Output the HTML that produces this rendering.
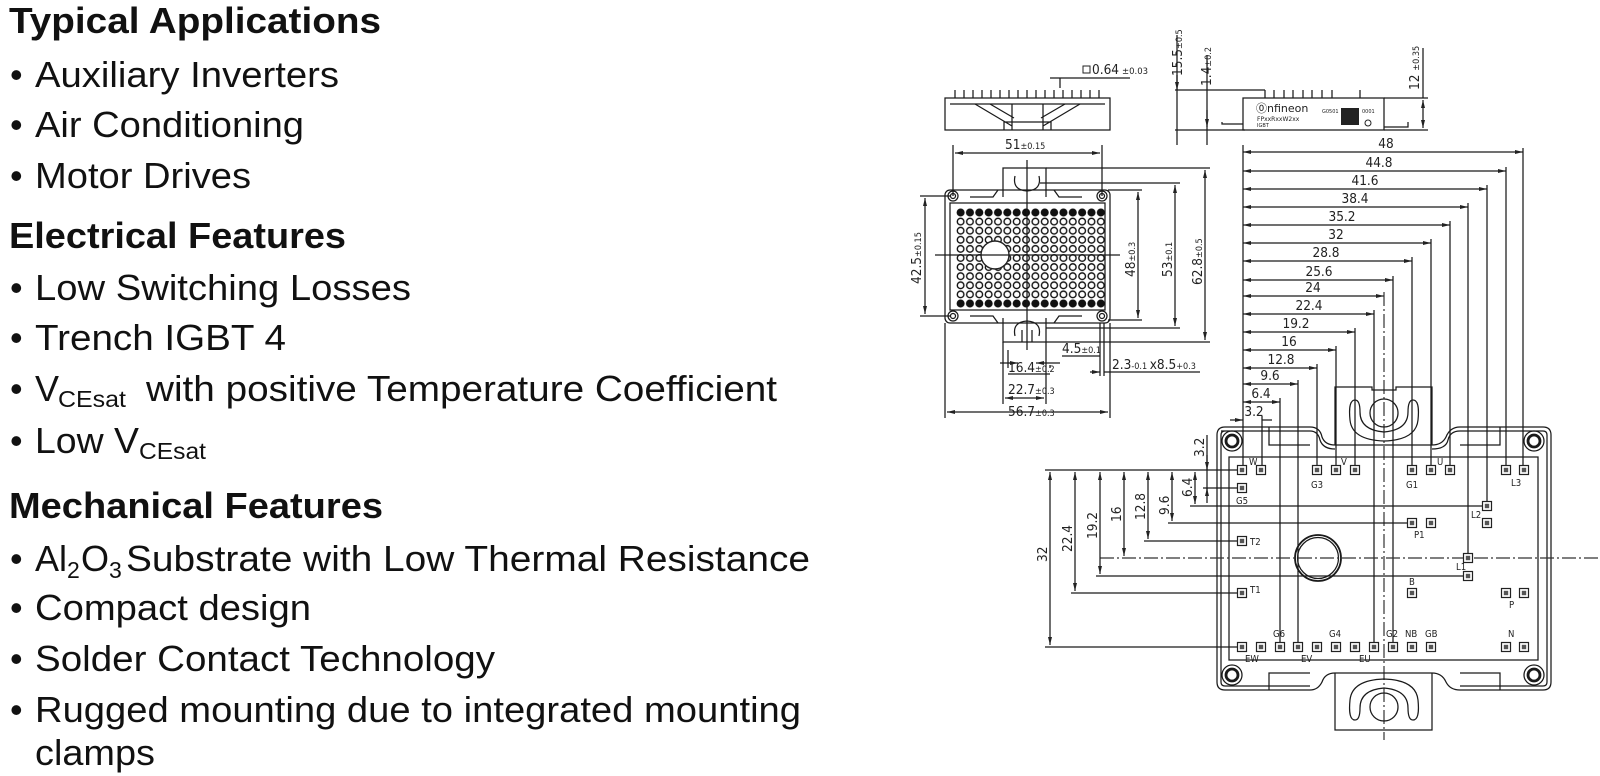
<!DOCTYPE html>
<html><head><meta charset="utf-8"><style>
html,body{margin:0;padding:0;background:#fff;}
svg{display:block;}
.t{font-family:"Liberation Sans",Arial,sans-serif;fill:#111;font-size:36px;}
.h{font-weight:bold;}
.d{font-family:"DejaVu Sans Condensed","DejaVu Sans",sans-serif;fill:#222;font-size:13.5px;}
.s{font-family:"DejaVu Sans",sans-serif;fill:#222;font-size:8.5px;}
.l{stroke:#1a1a1a;stroke-width:1.25;fill:none;}
.c{stroke:#333;stroke-width:1.2;fill:none;stroke-dasharray:14 3 2 3;}
</style></head><body>
<svg width="1600" height="776" viewBox="0 0 1600 776" xmlns="http://www.w3.org/2000/svg">
<defs>
<pattern id="dots" x="956" y="208" width="9.35" height="9.1" patternUnits="userSpaceOnUse">
<circle cx="4.6" cy="4.5" r="3.3" fill="none" stroke="#111" stroke-width="1.4"/></pattern>
<pattern id="fdots" x="956" y="208" width="9.35" height="9.1" patternUnits="userSpaceOnUse">
<circle cx="4.6" cy="4.5" r="3.7" fill="#111"/></pattern>
<g id="pin"><rect x="-4.5" y="-4.5" width="9" height="9" fill="#fff" stroke="#222" stroke-width="1.2"/><rect x="-2.2" y="-2.2" width="4.4" height="4.4" fill="#555"/></g>
<marker id="a" markerWidth="8" markerHeight="6" refX="8" refY="3" orient="auto-start-reverse" markerUnits="userSpaceOnUse"><path d="M0,1 L8,3 L0,5z" fill="#222"/></marker>
</defs>

<!-- LEFT TEXT -->
<text class="t h" x="9" y="33" textLength="372" lengthAdjust="spacingAndGlyphs">Typical Applications</text>
<g class="t">
<text x="10" y="87">•</text><text x="35" y="87" textLength="304" lengthAdjust="spacingAndGlyphs">Auxiliary Inverters</text>
<text x="10" y="137">•</text><text x="35" y="137" textLength="269" lengthAdjust="spacingAndGlyphs">Air Conditioning</text>
<text x="10" y="188">•</text><text x="35" y="188" textLength="216" lengthAdjust="spacingAndGlyphs">Motor Drives</text>
</g>
<text class="t h" x="9" y="248" textLength="337" lengthAdjust="spacingAndGlyphs">Electrical Features</text>
<g class="t">
<text x="10" y="300">•</text><text x="35" y="300" textLength="376" lengthAdjust="spacingAndGlyphs">Low Switching Losses</text>
<text x="10" y="350">•</text><text x="35" y="350" textLength="251" lengthAdjust="spacingAndGlyphs">Trench IGBT 4</text>
<text x="10" y="401">•</text><text x="35" y="401">V</text><text x="58" y="407" font-size="23" textLength="68" lengthAdjust="spacingAndGlyphs">CEsat</text><text x="146" y="401" textLength="631" lengthAdjust="spacingAndGlyphs">with positive Temperature Coefficient</text>
<text x="10" y="453">•</text><text x="35" y="453" textLength="104" lengthAdjust="spacingAndGlyphs">Low V</text><text x="139" y="459" font-size="23" textLength="67" lengthAdjust="spacingAndGlyphs">CEsat</text>
</g>
<text class="t h" x="9" y="518" textLength="374" lengthAdjust="spacingAndGlyphs">Mechanical Features</text>
<g class="t">
<text x="10" y="571">•</text><text x="35" y="571">Al</text><text x="67" y="578" font-size="23">2</text><text x="81" y="571">O</text><text x="109" y="578" font-size="23">3</text><text x="126" y="571" textLength="684" lengthAdjust="spacingAndGlyphs">Substrate with Low Thermal Resistance</text>
<text x="10" y="620">•</text><text x="35" y="620" textLength="276" lengthAdjust="spacingAndGlyphs">Compact design</text>
<text x="10" y="671">•</text><text x="35" y="671" textLength="460" lengthAdjust="spacingAndGlyphs">Solder Contact Technology</text>
<text x="10" y="722">•</text><text x="35" y="722" textLength="766" lengthAdjust="spacingAndGlyphs">Rugged mounting due to integrated mounting</text>
<text x="35" y="765" textLength="120" lengthAdjust="spacingAndGlyphs">clamps</text>
</g>

<!-- SIDE VIEW LEFT -->
<g class="l">
<rect x="945" y="98" width="165" height="32"/>
<line x1="950" y1="104" x2="1105" y2="104"/>
<path d="M975 104 L1012 126 M990 104 L1014 118 M1080 104 L1043 126 M1065 104 L1041 118 M1012 104 V130 M1043 104 V130 M1004 130 V122 H1051 V130"/>
<path d="M955 98 V90 M964 98 V90 M973 98 V90 M982 98 V90 M991 98 V90 M1000 98 V90 M1009 98 V90 M1018 98 V90 M1027 98 V90 M1036 98 V90 M1045 98 V90 M1054 98 V90 M1063 98 V90 M1072 98 V90 M1081 98 V90 M1090 98 V90 M1099 98 V90"/>
<path d="M1058 78 H1130 M1060 78 V88 M1058 78 L1050 78"/>
</g>
<rect x="1083" y="66" width="7" height="7" fill="none" stroke="#222"/>
<text class="d" x="1092" y="74">0.64</text><text class="s" x="1122" y="74">±0.03</text>

<!-- TOP VIEW -->
<g class="l">
<rect x="945" y="190" width="165" height="133" rx="5"/>
<rect x="950" y="203" width="155" height="107"/>
<path d="M1003 197 V168 H1046 V197 M1015 176 Q1012 190 1027 191 Q1042 190 1039 176"/>
<path d="M1003 318 V342 H1046 V318 M1015 336 Q1012 322 1027 321 Q1042 322 1039 336 M1022 330 V342 M1032 330 V342"/>
<path d="M970 197 H993 L998 190 M1082 197 H1059 L1054 190 M970 316 H993 L998 323 M1082 316 H1059 L1054 323"/>
<circle cx="953" cy="196" r="5"/><circle cx="1102" cy="196" r="5"/><circle cx="953" cy="316" r="5"/><circle cx="1102" cy="316" r="5"/>
<circle cx="953" cy="196" r="2.5"/><circle cx="1102" cy="196" r="2.5"/><circle cx="953" cy="316" r="2.5"/><circle cx="1102" cy="316" r="2.5"/>
</g>
<rect x="956" y="208" width="149.6" height="100.1" fill="url(#dots)"/>
<rect x="956" y="208" width="149.6" height="9.1" fill="url(#fdots)"/>
<rect x="956" y="299" width="149.6" height="9.1" fill="url(#fdots)"/>
<circle cx="995" cy="255" r="14" fill="#fff" stroke="#222" stroke-width="1.4"/>
<g class="l">
<line x1="1027" y1="160" x2="1027" y2="350"/><line x1="935" y1="255" x2="1120" y2="255"/>
<line x1="953" y1="145" x2="953" y2="196"/><line x1="1102" y1="145" x2="1102" y2="196"/>
<line x1="955" y1="153" x2="1100" y2="153" marker-start="url(#a)" marker-end="url(#a)"/>
<line x1="920" y1="196" x2="950" y2="196"/><line x1="920" y1="316" x2="950" y2="316"/>
<line x1="925" y1="198" x2="925" y2="314" marker-start="url(#a)" marker-end="url(#a)"/>
<line x1="1108" y1="190" x2="1142" y2="190"/><line x1="1108" y1="320" x2="1142" y2="320"/>
<line x1="1138" y1="192" x2="1138" y2="318" marker-start="url(#a)" marker-end="url(#a)"/>
<line x1="1040" y1="183" x2="1180" y2="183"/><line x1="1046" y1="328" x2="1180" y2="328"/>
<line x1="1175" y1="185" x2="1175" y2="326" marker-start="url(#a)" marker-end="url(#a)"/>
<line x1="1046" y1="168" x2="1210" y2="168"/><line x1="1046" y1="342" x2="1210" y2="342"/>
<line x1="1205" y1="170" x2="1205" y2="340" marker-start="url(#a)" marker-end="url(#a)"/>
<line x1="945" y1="323" x2="945" y2="418"/><line x1="1110" y1="323" x2="1110" y2="418"/>
<line x1="947" y1="412" x2="1108" y2="412" marker-start="url(#a)" marker-end="url(#a)"/>
<line x1="1003" y1="342" x2="1003" y2="404"/><line x1="1046" y1="342" x2="1046" y2="404"/>
<line x1="1005" y1="398" x2="1044" y2="398" marker-start="url(#a)" marker-end="url(#a)"/>
<line x1="1008" y1="350" x2="1008" y2="368"/><line x1="1050" y1="365" x2="1050" y2="368"/>
<line x1="1000" y1="363" x2="1018" y2="363" marker-end="url(#a)"/><line x1="1060" y1="363" x2="1036" y2="363" marker-end="url(#a)"/>
<line x1="1008" y1="374" x2="1050" y2="374"/>
<line x1="1100" y1="323" x2="1100" y2="376"/><line x1="1104" y1="323" x2="1104" y2="376"/>
<line x1="1090" y1="372" x2="1100" y2="372" marker-end="url(#a)"/><line x1="1104" y1="372" x2="1200" y2="372"/>
<line x1="1062" y1="356" x2="1100" y2="356"/>
</g>
<g class="d">
<text x="1005" y="149">51<tspan font-size="9">±0.15</tspan></text>
<text transform="translate(921,284) rotate(-90)">42.5<tspan font-size="9">±0.15</tspan></text>
<text transform="translate(1135,277) rotate(-90)">48<tspan font-size="9">±0.3</tspan></text>
<text transform="translate(1172,277) rotate(-90)">53<tspan font-size="9">±0.1</tspan></text>
<text transform="translate(1202,285) rotate(-90)">62.8<tspan font-size="9">±0.5</tspan></text>
<text x="1062" y="353">4.5<tspan font-size="9">±0.1</tspan></text>
<text x="1008" y="372">16.4<tspan font-size="9">±0.2</tspan></text>
<text x="1008" y="394">22.7<tspan font-size="9">±0.3</tspan></text>
<text x="1008" y="416">56.7<tspan font-size="9">±0.3</tspan></text>
<text x="1112" y="369">2.3<tspan font-size="9">-0.1 </tspan>x8.5<tspan font-size="9">+0.3</tspan></text>
</g>

<!-- SIDE VIEW RIGHT -->
<g class="l">
<rect x="1243" y="98" width="141" height="32"/>
<path d="M1265 98 V90 M1274 98 V90 M1284 98 V90 M1293 98 V90 M1303 98 V90 M1312 98 V90 M1322 98 V90 M1332 98 V90 M1360 98 V90"/>
<path d="M1243 124 H1222 V122 M1384 127 H1408 V122"/>
<line x1="1175" y1="90" x2="1265" y2="90"/><line x1="1175" y1="130" x2="1245" y2="130"/>
<line x1="1384" y1="98" x2="1428" y2="98"/><line x1="1384" y1="130" x2="1428" y2="130"/>
<line x1="1177" y1="35" x2="1177" y2="145"/><line x1="1207" y1="55" x2="1207" y2="145"/>
<line x1="1177" y1="75" x2="1177" y2="90" marker-end="url(#a)"/>
<line x1="1207" y1="110" x2="1207" y2="127" marker-end="url(#a)"/>
<line x1="1423" y1="48" x2="1423" y2="98"/><line x1="1423" y1="100" x2="1423" y2="128" marker-start="url(#a)" marker-end="url(#a)"/>
</g>
<text transform="translate(1182,76) rotate(-90)" class="d" font-size="15">15.5<tspan font-size="9">±0.5</tspan></text>
<text transform="translate(1211,86) rotate(-90)" class="d">1.4<tspan font-size="9">±0.2</tspan></text>
<text transform="translate(1419,90) rotate(-90)" class="d">12 <tspan font-size="9">±0.35</tspan></text>
<text x="1256" y="112" font-family="DejaVu Sans" font-size="11" fill="#222">⓪nfineon</text>
<text x="1257" y="121" font-family="DejaVu Sans" font-size="6" fill="#222">FPxxRxxW2xx</text>
<text x="1257" y="127" font-family="DejaVu Sans" font-size="5" fill="#222">IGBT</text>
<text x="1322" y="113" font-family="DejaVu Sans" font-size="5" fill="#222">G0501</text>
<rect x="1341" y="108" width="18" height="17" fill="#222"/>
<text x="1362" y="113" font-family="DejaVu Sans" font-size="5" fill="#222">0001</text>
<circle cx="1368" cy="123" r="3" fill="none" stroke="#222"/>

<!-- DIM LADDER -->
<g class="l">
<line x1="1243" y1="145" x2="1243" y2="470"/>
<g marker-start="url(#a)" marker-end="url(#a)">
<line x1="1243" y1="152" x2="1523" y2="152"/><line x1="1243" y1="171" x2="1506" y2="171"/>
<line x1="1243" y1="189" x2="1487" y2="189"/><line x1="1243" y1="207" x2="1468" y2="207"/>
<line x1="1243" y1="225" x2="1450" y2="225"/><line x1="1243" y1="243" x2="1431" y2="243"/>
<line x1="1243" y1="261" x2="1412" y2="261"/><line x1="1243" y1="280" x2="1393" y2="280"/>
<line x1="1243" y1="296" x2="1384" y2="296"/><line x1="1243" y1="314" x2="1374" y2="314"/>
<line x1="1243" y1="332" x2="1355" y2="332"/><line x1="1243" y1="350" x2="1336" y2="350"/>
<line x1="1243" y1="368" x2="1317" y2="368"/><line x1="1243" y1="384" x2="1298" y2="384"/>
<line x1="1243" y1="402" x2="1280" y2="402"/>
</g>
<line x1="1230" y1="420" x2="1243" y2="420" marker-end="url(#a)"/><line x1="1262" y1="420" x2="1272" y2="420"/>
<line x1="1523" y1="148" x2="1523" y2="470"/><line x1="1506" y1="167" x2="1506" y2="470"/>
<line x1="1487" y1="185" x2="1487" y2="506"/><line x1="1468" y1="203" x2="1468" y2="558"/>
<line x1="1450" y1="221" x2="1450" y2="470"/><line x1="1431" y1="239" x2="1431" y2="470"/>
<line x1="1412" y1="257" x2="1412" y2="470"/><line x1="1393" y1="276" x2="1393" y2="647"/>
<line x1="1374" y1="310" x2="1374" y2="647"/><line x1="1355" y1="328" x2="1355" y2="470"/>
<line x1="1336" y1="346" x2="1336" y2="470"/><line x1="1317" y1="364" x2="1317" y2="470"/>
<line x1="1298" y1="380" x2="1298" y2="647"/><line x1="1280" y1="398" x2="1280" y2="647"/>
<line x1="1262" y1="416" x2="1262" y2="470"/>
</g>
<line x1="1384" y1="292" x2="1384" y2="740" class="c"/>
<g class="d" text-anchor="middle" font-size="14.5">
<text x="1386" y="148">48</text><text x="1379" y="167">44.8</text><text x="1365" y="185">41.6</text>
<text x="1355" y="203">38.4</text><text x="1342" y="221">35.2</text><text x="1336" y="239">32</text>
<text x="1326" y="257">28.8</text><text x="1319" y="276">25.6</text><text x="1313" y="292">24</text>
<text x="1309" y="310">22.4</text><text x="1296" y="328">19.2</text><text x="1289" y="346">16</text>
<text x="1281" y="364">12.8</text><text x="1270" y="380">9.6</text><text x="1261" y="398">6.4</text>
<text x="1254" y="416">3.2</text>
</g>

<!-- MODULE -->
<g class="l">
<path d="M1225 427 H1310 Q1320 427 1322 437 Q1325 445 1335 445 H1432 Q1442 445 1446 437 Q1450 427 1460 427 H1543 Q1551 427 1551 435 V682 Q1551 690 1543 690 H1460 Q1450 690 1446 682 Q1442 673 1432 673 H1335 Q1325 673 1322 682 Q1318 690 1310 690 H1225 Q1217 690 1217 682 V435 Q1217 427 1225 427z"/>
<path d="M1221 431 H1310 Q1318 431 1320 440 Q1323 449 1335 449 M1432 449 Q1446 449 1448 440 Q1450 431 1460 431 H1543 Q1547 431 1547 435 V682 Q1547 686 1543 686 H1460 M1310 686 H1225 Q1221 686 1221 682 V435 Q1221 431 1225 431"/>
<rect x="1229" y="457" width="309" height="203"/>
<path d="M1269 427 V445 H1310 M1500 427 V445 H1460 M1269 690 V673 H1310 M1500 690 V673 H1460"/>
<path d="M1335 445 V387 H1372 V390 H1396 V387 H1432 V445"/>
<path d="M1355 400 Q1348 400 1350 420 Q1352 440 1384 441 Q1416 440 1418 420 Q1420 400 1413 400 Q1408 400 1408 412 Q1408 430 1384 432 Q1360 430 1360 412 Q1360 400 1355 400z"/>
<circle cx="1384" cy="413" r="14"/>
<path d="M1335 673 V730 H1432 V673"/>
<path d="M1355 720 Q1348 720 1350 700 Q1352 680 1384 679 Q1416 680 1418 700 Q1420 720 1413 720 Q1408 720 1408 708 Q1408 690 1384 688 Q1360 690 1360 708 Q1360 720 1355 720z"/>
<circle cx="1384" cy="707" r="14"/>
<circle cx="1232" cy="441" r="10"/><circle cx="1232" cy="441" r="6" stroke-width="2.8"/>
<circle cx="1534" cy="441" r="10"/><circle cx="1534" cy="441" r="6" stroke-width="2.8"/>
<circle cx="1232" cy="675" r="10"/><circle cx="1232" cy="675" r="6" stroke-width="2.8"/>
<circle cx="1534" cy="675" r="10"/><circle cx="1534" cy="675" r="6" stroke-width="2.8"/>
<circle cx="1318" cy="558" r="23" stroke-width="1.8"/><circle cx="1318" cy="558" r="20.5"/>
</g>
<line x1="1100" y1="558" x2="1600" y2="558" class="c"/>

<!-- LEFT DIMS -->
<g class="l">
<line x1="1045" y1="470" x2="1240" y2="470"/>
<line x1="1203" y1="488" x2="1240" y2="488"/>
<line x1="1190" y1="506" x2="1487" y2="506"/>
<line x1="1168" y1="523" x2="1412" y2="523"/>
<line x1="1144" y1="541" x2="1240" y2="541"/>
<line x1="1096" y1="576" x2="1468" y2="576"/>
<line x1="1071" y1="593" x2="1240" y2="593"/>
<line x1="1045" y1="647" x2="1240" y2="647"/>
<line x1="1207" y1="435" x2="1207" y2="492"/>
<line x1="1207" y1="455" x2="1207" y2="470" marker-end="url(#a)"/>
<line x1="1207" y1="503" x2="1207" y2="488" marker-end="url(#a)"/>
<g marker-start="url(#a)" marker-end="url(#a)">
<line x1="1195" y1="472" x2="1195" y2="504"/>
<line x1="1172" y1="472" x2="1172" y2="521"/>
<line x1="1148" y1="472" x2="1148" y2="539"/>
<line x1="1124" y1="472" x2="1124" y2="556"/>
<line x1="1100" y1="472" x2="1100" y2="574"/>
<line x1="1075" y1="472" x2="1075" y2="591"/>
<line x1="1050" y1="472" x2="1050" y2="645"/>
</g>
</g>
<g class="d" font-size="14.5">
<text transform="translate(1204,457) rotate(-90)">3.2</text>
<text transform="translate(1192,497) rotate(-90)">6.4</text>
<text transform="translate(1169,515) rotate(-90)">9.6</text>
<text transform="translate(1145,520) rotate(-90)">12.8</text>
<text transform="translate(1121,522) rotate(-90)">16</text>
<text transform="translate(1097,539) rotate(-90)">19.2</text>
<text transform="translate(1072,552) rotate(-90)">22.4</text>
<text transform="translate(1047,562) rotate(-90)">32</text>
</g>

<!-- PINS -->
<g>
<use href="#pin" x="1242" y="470"/><use href="#pin" x="1261" y="470"/><use href="#pin" x="1317" y="470"/><use href="#pin" x="1336" y="470"/><use href="#pin" x="1355" y="470"/><use href="#pin" x="1412" y="470"/><use href="#pin" x="1431" y="470"/><use href="#pin" x="1450" y="470"/><use href="#pin" x="1506" y="470"/><use href="#pin" x="1524" y="470"/>
<use href="#pin" x="1242" y="488"/><use href="#pin" x="1487" y="506"/><use href="#pin" x="1487" y="523"/><use href="#pin" x="1412" y="523"/><use href="#pin" x="1431" y="523"/>
<use href="#pin" x="1242" y="541"/><use href="#pin" x="1468" y="558"/><use href="#pin" x="1468" y="576"/><use href="#pin" x="1242" y="593"/><use href="#pin" x="1412" y="593"/><use href="#pin" x="1506" y="593"/><use href="#pin" x="1524" y="593"/>
<use href="#pin" x="1242" y="647"/><use href="#pin" x="1261" y="647"/><use href="#pin" x="1280" y="647"/><use href="#pin" x="1298" y="647"/><use href="#pin" x="1317" y="647"/><use href="#pin" x="1336" y="647"/><use href="#pin" x="1355" y="647"/><use href="#pin" x="1374" y="647"/><use href="#pin" x="1393" y="647"/><use href="#pin" x="1412" y="647"/><use href="#pin" x="1431" y="647"/><use href="#pin" x="1506" y="647"/><use href="#pin" x="1524" y="647"/>
</g>
<g font-family="DejaVu Sans Condensed,DejaVu Sans,sans-serif" font-size="9.5" fill="#222">
<text x="1249" y="465">W</text><text x="1341" y="465">V</text><text x="1437" y="465">U</text>
<text x="1311" y="488">G3</text><text x="1406" y="488">G1</text><text x="1511" y="486">L3</text>
<text x="1236" y="504">G5</text><text x="1471" y="518">L2</text><text x="1414" y="538">P1</text>
<text x="1250" y="545">T2</text><text x="1456" y="570">L1</text><text x="1250" y="593">T1</text>
<text x="1409" y="585">B</text><text x="1509" y="608">P</text>
<text x="1273" y="637">G6</text><text x="1329" y="637">G4</text><text x="1386" y="637">G2</text><text x="1405" y="637">NB</text><text x="1425" y="637">GB</text><text x="1508" y="637">N</text>
<text x="1245" y="662">EW</text><text x="1301" y="662">EV</text><text x="1359" y="662">EU</text>
</g>
</svg>
</body></html>
